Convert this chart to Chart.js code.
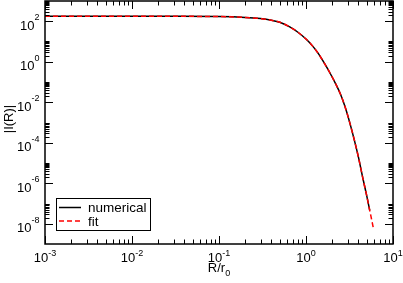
<!DOCTYPE html>
<html><head><meta charset="utf-8">
<script src="https://cdn.jsdelivr.net/npm/chart.js@4"></script>
<style>html,body{margin:0;padding:0;background:#fff}#wrap{width:403px;height:283px}</style>
</head><body><div id="wrap"><canvas id="c" width="403" height="283"></canvas></div>
<script>
// Data (R/r0, |I(R)|)
const R = [0.001, 0.003, 0.01, 0.03, 0.1, 0.2, 0.3, 0.4, 0.5, 0.65, 0.8, 1.0, 1.2, 1.4, 1.6, 1.9, 2.2, 2.5, 2.8, 3.2, 3.6, 4.0, 4.5, 5.0, 5.4, 5.7, 5.95];
const numerical = [175, 175, 175, 174.6, 170.6, 155, 135, 112, 89, 52.5, 29.5, 13.2, 5.75, 2.4, 0.95, 0.263, 0.079, 0.024, 0.0063, 9.1e-4, 1.32e-4, 2.0e-5, 1.8e-6, 2.3e-7, 4.6e-8, null, null];
const fit = [175, 175, 175, 174.6, 170.6, 155, 135, 112, 89, 52.5, 29.5, 13.2, 5.75, 2.4, 0.95, 0.263, 0.079, 0.024, 0.0063, 9.1e-4, 1.32e-4, 2.0e-5, 1.8e-6, 2.3e-7, 4.6e-8, 1.5e-8, 6.0e-9];
const seriesNames = ['numerical', 'fit'];

const xMajorTicks = [1e-3, 1e-2, 1e-1, 1e0, 1e1];
const xTickExp = ['-3', '-2', '-1', '0', '1'];
const yMajorTicks = [1e2, 1e0, 1e-2, 1e-4, 1e-6, 1e-8];
const yTickExp = ['2', '0', '-2', '-4', '-6', '-8'];
const xMinorDecades = [1e-3, 1e-2, 1e-1, 1e0];
const yMinorDecades = [1e2, 1e0, 1e-2, 1e-4, 1e-6, 1e-8];
const xTitle = 'R/r', xTitleSub = '0';
const yTitle = '|I(R)|';

const FONT = '"Liberation Sans", Arial, Helvetica, sans-serif';

const axesPlugin = {
  id: 'axesPlugin',
  afterDraw(chart) {
    const ctx = chart.ctx, a = chart.chartArea;
    const xs = chart.scales.x, ys = chart.scales.y;
    ctx.save();
    ctx.strokeStyle = '#000';
    ctx.fillStyle = '#000';
    ctx.lineWidth = 1.5;
    ctx.strokeRect(a.left, a.top, a.right - a.left, a.bottom - a.top);
    ctx.lineWidth = 1;
    const MAJ = 8, MIN = 4.5;
    function xt(v, len) {
      const p = Math.round(xs.getPixelForValue(v)) + 0.5;
      ctx.beginPath();
      ctx.moveTo(p, a.bottom); ctx.lineTo(p, a.bottom - len);
      ctx.moveTo(p, a.top); ctx.lineTo(p, a.top + len);
      ctx.stroke();
    }
    function yt(v, len) {
      const p = Math.round(ys.getPixelForValue(v)) + 0.5;
      ctx.beginPath();
      ctx.moveTo(a.left, p); ctx.lineTo(a.left + len, p);
      ctx.moveTo(a.right, p); ctx.lineTo(a.right - len, p);
      ctx.stroke();
    }
    xMajorTicks.forEach(v => xt(v, MAJ));
    xMinorDecades.forEach(d => { for (let k = 2; k <= 9; k++) xt(k * d, MIN); });
    yMajorTicks.forEach(v => yt(v, MAJ));
    yMinorDecades.forEach(d => { for (let k = 2; k <= 10; k++) { const v = k * d; if (v <= ys.max) yt(v, MIN); } });

    const big = '13px ' + FONT, small = '9px ' + FONT, leg = '13.5px ' + FONT;
    ctx.textBaseline = 'alphabetic';
    ctx.textAlign = 'left';
    xMajorTicks.forEach((v, i) => {
      const p = xs.getPixelForValue(v);
      ctx.font = big; const w1 = ctx.measureText('10').width;
      ctx.font = small; const w2 = ctx.measureText(xTickExp[i]).width;
      const x0 = p - (w1 + w2) / 2;
      ctx.font = big; ctx.fillText('10', x0, a.bottom + 18);
      ctx.font = small; ctx.fillText(xTickExp[i], x0 + w1, a.bottom + 12);
    });
    yMajorTicks.forEach((v, i) => {
      const p = ys.getPixelForValue(v);
      ctx.font = big; const w1 = ctx.measureText('10').width;
      ctx.font = small; const w2 = ctx.measureText(yTickExp[i]).width;
      const x0 = 39.5 - (w1 + w2);
      ctx.font = big; ctx.fillText('10', x0, p + 8.3);
      ctx.font = small; ctx.fillText(yTickExp[i], x0 + w1, p - 1.2);
    });

    ctx.font = big;
    const wt = ctx.measureText(xTitle).width;
    ctx.font = small;
    const ws = ctx.measureText(xTitleSub).width;
    const cx = (a.left + a.right) / 2 - (wt + ws) / 2;
    ctx.font = big; ctx.fillText(xTitle, cx, 272);
    ctx.font = small; ctx.fillText(xTitleSub, cx + wt, 275.5);

    ctx.save();
    ctx.translate(9, 119);
    ctx.rotate(-Math.PI / 2);
    ctx.font = big; ctx.textAlign = 'center'; ctx.textBaseline = 'middle';
    ctx.fillText(yTitle, 0, 0);
    ctx.restore();

    ctx.lineWidth = 1;
    ctx.fillStyle = '#fff';
    ctx.fillRect(56, 198, 94, 32);
    ctx.strokeStyle = '#000';
    ctx.strokeRect(56.5, 198.5, 94, 32);
    const rows = [207.5, 221];
    chart.data.datasets.forEach((ds, i) => {
      ctx.strokeStyle = ds.borderColor;
      ctx.lineWidth = ds.borderWidth;
      ctx.setLineDash(ds.borderDash || []);
      ctx.beginPath();
      ctx.moveTo(59, rows[i]); ctx.lineTo(81, rows[i]);
      ctx.stroke();
      ctx.setLineDash([]);
      ctx.fillStyle = '#000';
      ctx.font = leg; ctx.textAlign = 'left'; ctx.textBaseline = 'alphabetic';
      ctx.fillText(ds.label, 88, rows[i] + 4.8);
    });
    ctx.restore();
  }
};

new Chart(document.getElementById('c'), {
  type: 'line',
  data: {
    datasets: [
      { label: seriesNames[0], data: R.map((r, i) => ({ x: r, y: numerical[i] })), borderColor: '#000000', borderWidth: 1.5, pointRadius: 0, fill: false, order: 1, spanGaps: false, cubicInterpolationMode: 'monotone' },
      { label: seriesNames[1], data: R.map((r, i) => ({ x: r, y: fit[i] })), borderColor: '#ff0000', borderWidth: 1.5, borderDash: [5, 3], pointRadius: 0, fill: false, order: 0, cubicInterpolationMode: 'monotone' }
    ]
  },
  options: {
    responsive: false,
    animation: false,
    devicePixelRatio: 1,
    layout: { padding: { left: 45, right: 10, top: 1, bottom: 39 } },
    plugins: { legend: { display: false }, tooltip: { enabled: false } },
    scales: {
      x: { type: 'logarithmic', min: 1e-3, max: 10, display: false },
      y: { type: 'logarithmic', min: 1e-9, max: 1e3, display: false }
    }
  },
  plugins: [axesPlugin]
});
</script></body></html>
